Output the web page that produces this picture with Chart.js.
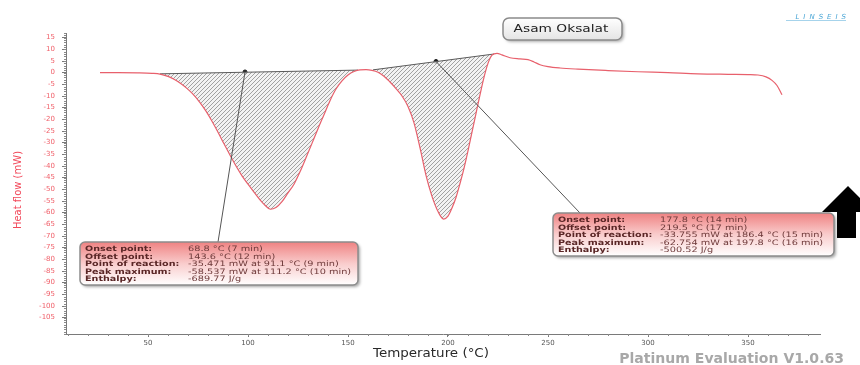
<!DOCTYPE html>
<html>
<head>
<meta charset="utf-8">
<script src="https://cdn.jsdelivr.net/npm/chart.js@4/dist/chart.umd.min.js"></script>
<style>
  html, body { margin: 0; padding: 0; background: #ffffff; overflow: hidden; }
  canvas { display: block; }
</style>
</head>
<body>
<canvas id="dsc" width="860" height="365"></canvas>
<script>
// DSC run of oxalic acid: heat flow (mW) against temperature (°C)
const temperature = [26, 35, 45, 52, 56, 60, 63, 66, 69, 72, 76, 79, 82, 85, 88, 91.1, 94, 97, 100, 103, 106, 108.5, 111.2,
  114, 117, 120, 123, 126, 129, 132, 135, 138, 141, 144, 147, 150, 153, 156, 159, 162, 165, 168, 171, 174, 177, 180, 183,
  186.4, 189, 192, 195, 197.8, 200, 202, 204, 206, 208, 210, 212, 214, 216, 218, 220, 222, 224.5, 227, 231, 236, 240, 243,
  246, 250, 256, 265, 280, 295, 310, 325, 340, 350, 355, 359, 362, 364.5, 367];
const heatFlow = [0.0, 0.0, -0.1, -0.3, -0.6, -1.6, -2.8, -4.4, -6.4, -8.8, -12.8, -16.5, -20.8, -25.5, -30.5, -35.471, -40.0,
  -44.2, -47.8, -51.2, -54.5, -56.8, -58.537, -57.8, -55.3, -51.5, -47.8, -42.5, -36.5, -30.3, -24.0, -18.0, -12.0, -7.0,
  -3.5, -1.0, 0.5, 1.2, 1.3, 1.0, 0.2, -1.5, -4.0, -6.8, -10.0, -14.5, -21.5, -33.755, -44.0, -53.0, -59.5, -62.754, -61.5,
  -58.0, -53.5, -47.5, -41.0, -33.5, -25.5, -17.5, -9.5, -2.0, 4.0, 7.5, 8.3, 7.6, 6.4, 5.9, 5.6, 4.6, 3.4, 2.6, 2.0, 1.5,
  0.9, 0.4, 0.0, -0.5, -0.7, -0.8, -1.0, -1.8, -3.3, -5.5, -9.5];

// integration baselines of the two endothermic peaks
const base1T = [56, 155];
const base1V = [-0.5, 1.1];
const base2T = [162.5, 223];
const base2V = [1.2, 8.0];

// anchor points of the evaluation call-outs (on the baselines)
const markT = [98.5, 194];
const markV = [0.3, 4.8];

// axis tick labels
const xTicks = [50, 100, 150, 200, 250, 300, 350];
const yTicks = [15, 10, 5, 0, -5, -10, -15, -20, -25, -30, -35, -40, -45, -50, -55, -60, -65, -70, -75, -80, -85, -90, -95, -100, -105];

// evaluation results for each peak
const resultLabels = ['Onset point:', 'Offset point:', 'Point of reaction:', 'Peak maximum:', 'Enthalpy:'];
const peak1Results = ['68.8 °C (7 min)', '143.6 °C (12 min)', '-35.471 mW at 91.1 °C (9 min)', '-58.537 mW at 111.2 °C (10 min)', '-689.77 J/g'];
const peak2Results = ['177.8 °C (14 min)', '219.5 °C (17 min)', '-33.755 mW at 186.4 °C (15 min)', '-62.754 mW at 197.8 °C (16 min)', '-500.52 J/g'];

const toXY = (xs, ys) => xs.map((x, i) => ({ x: x, y: ys[i] }));

// diagonal hatching for the integrated peak areas
function hatchPattern() {
  const p = document.createElement('canvas');
  p.width = 4; p.height = 4;
  const c = p.getContext('2d');
  c.fillStyle = 'rgba(240,240,240,0.8)';
  c.fillRect(0, 0, 4, 4);
  c.strokeStyle = 'rgba(115,115,115,0.8)';
  c.lineWidth = 0.8;
  c.beginPath();
  c.moveTo(-1, 5); c.lineTo(5, -1);
  c.moveTo(-1, 1); c.lineTo(1, -1);
  c.moveTo(3, 5); c.lineTo(5, 3);
  c.stroke();
  return document.getElementById('dsc').getContext('2d').createPattern(p, 'repeat');
}
const hatch = hatchPattern();

// text drawn with a horizontal stretch factor
function wideText(ctx, text, x, y, sx) {
  ctx.save();
  ctx.translate(x, y);
  ctx.scale(sx, 1);
  ctx.fillText(text, 0, 0);
  ctx.restore();
}

function infoBox(ctx, x, y, w, h, values, valX) {
  ctx.save();
  ctx.shadowColor = 'rgba(0,0,0,0.35)';
  ctx.shadowOffsetX = 2; ctx.shadowOffsetY = 2; ctx.shadowBlur = 3;
  const g = ctx.createLinearGradient(0, y, 0, y + h);
  g.addColorStop(0, '#ef8282');
  g.addColorStop(0.5, '#f9cccc');
  g.addColorStop(1, '#ffffff');
  ctx.fillStyle = g;
  ctx.beginPath(); ctx.roundRect(x, y, w, h, 5); ctx.fill();
  ctx.restore();
  ctx.save();
  ctx.strokeStyle = '#8c8c8c'; ctx.lineWidth = 1.5;
  ctx.beginPath(); ctx.roundRect(x, y, w, h, 5); ctx.stroke();
  ctx.textBaseline = 'middle';
  ctx.textAlign = 'left';
  for (let i = 0; i < resultLabels.length; i++) {
    const ty = y + 7 + i * 7.6;
    ctx.font = 'bold 7.5px "DejaVu Sans"';
    ctx.fillStyle = '#5a2626';
    wideText(ctx, resultLabels[i], x + 5, ty, 1.28);
    ctx.font = '7.5px "DejaVu Sans"';
    ctx.fillStyle = '#6e3a3a';
    wideText(ctx, values[i], valX, ty, 1.3);
  }
  ctx.restore();
}

const decorations = {
  id: 'decorations',
  afterDraw(chart) {
    const ctx = chart.ctx;
    const xs = chart.scales.x, ys = chart.scales.y;
    const area = chart.chartArea;
    ctx.save();

    // minor tick marks
    ctx.strokeStyle = '#8a8a8a'; ctx.lineWidth = 1;
    ctx.beginPath();
    for (let v = -112; v <= 17; v++) {
      const py = Math.round(ys.getPixelForValue(v)) + 0.5;
      ctx.moveTo(area.left - 2, py); ctx.lineTo(area.left, py);
    }
    for (let t = 10; t <= 380; t += 10) {
      const px = Math.round(xs.getPixelForValue(t)) + 0.5;
      ctx.moveTo(px, area.bottom); ctx.lineTo(px, area.bottom + 2);
    }
    ctx.stroke();

    // leader lines from the baseline anchors to the result boxes
    ctx.strokeStyle = '#555555'; ctx.lineWidth = 1;
    ctx.beginPath();
    ctx.moveTo(xs.getPixelForValue(markT[0]), ys.getPixelForValue(markV[0]));
    ctx.lineTo(218, 242);
    ctx.moveTo(xs.getPixelForValue(markT[1]), ys.getPixelForValue(markV[1]));
    ctx.lineTo(580, 213);
    ctx.stroke();

    infoBox(ctx, 80, 242, 278, 43, peak1Results, 188);
    infoBox(ctx, 553, 213, 281, 43, peak2Results, 660);

    // sample name
    ctx.save();
    ctx.shadowColor = 'rgba(0,0,0,0.3)';
    ctx.shadowOffsetX = 2; ctx.shadowOffsetY = 2; ctx.shadowBlur = 3;
    const tg = ctx.createLinearGradient(0, 18, 0, 40);
    tg.addColorStop(0, '#ffffff'); tg.addColorStop(1, '#e4e4e4');
    ctx.fillStyle = tg;
    ctx.beginPath(); ctx.roundRect(503, 18, 119, 22, 6); ctx.fill();
    ctx.restore();
    ctx.strokeStyle = '#8a8a8a'; ctx.lineWidth = 1.5;
    ctx.beginPath(); ctx.roundRect(503, 18, 119, 22, 6); ctx.stroke();
    ctx.fillStyle = '#222222';
    ctx.font = '11px "DejaVu Sans"';
    ctx.textAlign = 'center'; ctx.textBaseline = 'middle';
    wideText(ctx, 'Asam Oksalat', 561, 29.5, 1.25);

    // axis titles
    ctx.font = '12px "DejaVu Sans"';
    ctx.fillStyle = '#2a2a2a';
    wideText(ctx, 'Temperature (°C)', 431, 354, 1.12);
    ctx.save();
    ctx.translate(18, 190);
    ctx.rotate(-Math.PI / 2);
    ctx.font = '10px "DejaVu Sans"';
    ctx.fillStyle = '#f2485a';
    ctx.fillText('Heat flow (mW)', 0, 0);
    ctx.restore();

    // software caption
    ctx.font = 'bold 13.5px "DejaVu Sans"';
    ctx.fillStyle = '#a8a8a8';
    ctx.textAlign = 'right';
    wideText(ctx, 'Platinum Evaluation V1.0.63', 844, 359, 1.04);

    // maker logo
    ctx.font = 'italic 7px "DejaVu Sans"';
    ctx.fillStyle = '#4aa6d6';
    ctx.textAlign = 'right';
    ctx.letterSpacing = '4px';
    ctx.fillText('LINSEIS', 850, 17);
    ctx.letterSpacing = '0px';
    ctx.strokeStyle = '#8fc8e6'; ctx.lineWidth = 0.8;
    ctx.beginPath(); ctx.moveTo(786, 20.5); ctx.lineTo(846, 20.5); ctx.stroke();

    // direction arrow
    ctx.fillStyle = '#000000';
    ctx.beginPath();
    ctx.moveTo(848, 186); ctx.lineTo(822, 212); ctx.lineTo(837, 212); ctx.lineTo(837, 238);
    ctx.lineTo(856, 238); ctx.lineTo(856, 212); ctx.lineTo(874, 212); ctx.closePath();
    ctx.fill();

    ctx.restore();
  }
};

new Chart(document.getElementById('dsc'), {
  type: 'line',
  data: {
    datasets: [
      {
        data: toXY(temperature, heatFlow),
        borderColor: '#e8606c',
        borderWidth: 1.2,
        pointRadius: 0,
        cubicInterpolationMode: 'monotone',
        fill: false
      },
      {
        data: toXY(base1T, base1V),
        borderColor: '#5a5a5a',
        borderWidth: 1,
        pointRadius: 0,
        backgroundColor: hatch,
        fill: { target: 0 }
      },
      {
        data: toXY(base2T, base2V),
        borderColor: '#5a5a5a',
        borderWidth: 1,
        pointRadius: 0,
        backgroundColor: hatch,
        fill: { target: 0 }
      },
      {
        data: toXY(markT, markV),
        showLine: false,
        pointRadius: 2,
        pointBackgroundColor: '#222222',
        pointBorderColor: '#222222',
        fill: false
      }
    ]
  },
  options: {
    responsive: false,
    animation: false,
    devicePixelRatio: 1,
    events: [],
    layout: { padding: { top: 33, right: 40, left: 0, bottom: 0 } },
    plugins: { legend: { display: false }, tooltip: { enabled: false }, title: { display: false } },
    scales: {
      x: {
        type: 'linear',
        min: 9,
        max: 386,
        afterFit(s) { s.height = 31; },
        afterBuildTicks(s) { s.ticks = xTicks.map(v => ({ value: v })); },
        border: { display: true, color: '#7a7a7a', width: 1 },
        grid: { drawOnChartArea: false, drawTicks: true, tickLength: 3, color: '#7a7a7a' },
        ticks: { padding: 2, color: '#555555', font: { family: 'DejaVu Sans', size: 7 }, maxRotation: 0 }
      },
      y: {
        type: 'linear',
        min: -112,
        max: 17,
        afterFit(s) { s.width = 66; },
        afterBuildTicks(s) { s.ticks = yTicks.map(v => ({ value: v })); },
        border: { display: true, color: '#7a7a7a', width: 1 },
        grid: { drawOnChartArea: false, drawTicks: true, tickLength: 4, color: '#7a7a7a' },
        ticks: { padding: 7, color: '#f0606a', font: { family: 'DejaVu Sans', size: 7 } }
      }
    }
  },
  plugins: [decorations]
});
</script>
</body>
</html>
